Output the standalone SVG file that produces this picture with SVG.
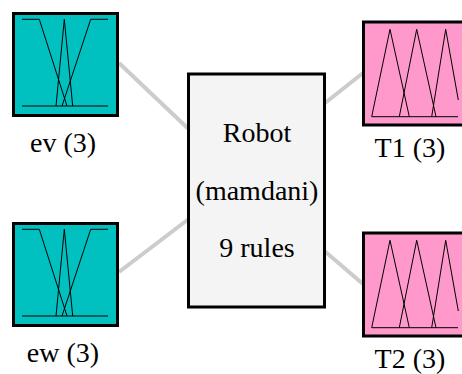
<svg xmlns="http://www.w3.org/2000/svg" width="462" height="374" viewBox="0 0 462 374">
  <style>
    .link { stroke: #cccccc; stroke-width: 4; fill: none; }
    .frame { stroke: #000000; stroke-width: 3; }
    .in { fill: #00c0c0; }
    .out { fill: #ff99cc; }
    .sys { fill: #f4f4f4; }
    .mf { fill: none; stroke: #000000; stroke-width: 1; stroke-linejoin: miter; }
    .lbl { font-family: "Liberation Serif", "Times New Roman", serif; font-size: 28px; fill: #000000; text-anchor: middle; }
  </style>
  <defs>
    <!-- three membership functions of an input variable -->
    <g id="mf-in">
      <polyline class="mf" points="22,106 108,106"/>
      <polyline class="mf" points="22,19.3 39.3,19.3 67,106"/>
      <polyline class="mf" points="56,106 64.3,19.3 72.7,106"/>
      <polyline class="mf" points="62,106 90.7,19.3 108,19.3"/>
    </g>
    <!-- three triangular membership functions of an output variable -->
    <g id="mf-out">
      <polyline class="mf" points="371.7,116.7 458,116.7"/>
      <polyline class="mf" points="371.7,116.7 390,29.3 409.3,116.7"/>
      <polyline class="mf" points="399.3,116.7 416.7,29.3 436,116.7"/>
      <polyline class="mf" points="431.7,116.7 445.7,29.3 458.3,100"/>
    </g>
  </defs>

  <g id="connectors">
    <line class="link" x1="119" y1="63" x2="188" y2="128.5"/>
    <line class="link" x1="119" y1="272" x2="188" y2="219.5"/>
    <line class="link" x1="325" y1="103" x2="363" y2="73"/>
    <line class="link" x1="325" y1="251.5" x2="363" y2="284"/>
  </g>

  <g id="ev">
    <rect class="frame in" x="13.5" y="13.5" width="104" height="102"/>
    <use href="#mf-in"/>
    <text class="lbl" x="63" y="152">ev (3)</text>
  </g>

  <g id="ew">
    <rect class="frame in" x="13.5" y="223.5" width="104" height="102"/>
    <use href="#mf-in" transform="translate(0,210)"/>
    <text class="lbl" x="63" y="362">ew (3)</text>
  </g>

  <g id="robot">
    <rect class="frame sys" x="188.5" y="74" width="136" height="233"/>
    <text class="lbl" x="257" y="141.5">Robot</text>
    <text class="lbl" x="257" y="200">(mamdani)</text>
    <text class="lbl" x="257" y="257">9 rules</text>
  </g>

  <g id="T1">
    <rect class="frame out" x="363.5" y="22" width="110" height="103"/>
    <use href="#mf-out"/>
    <text class="lbl" x="410" y="157">T1 (3)</text>
  </g>

  <g id="T2">
    <rect class="frame out" x="363.5" y="233" width="110" height="103"/>
    <use href="#mf-out" transform="translate(0,211)"/>
    <text class="lbl" x="410" y="368">T2 (3)</text>
  </g>
</svg>
